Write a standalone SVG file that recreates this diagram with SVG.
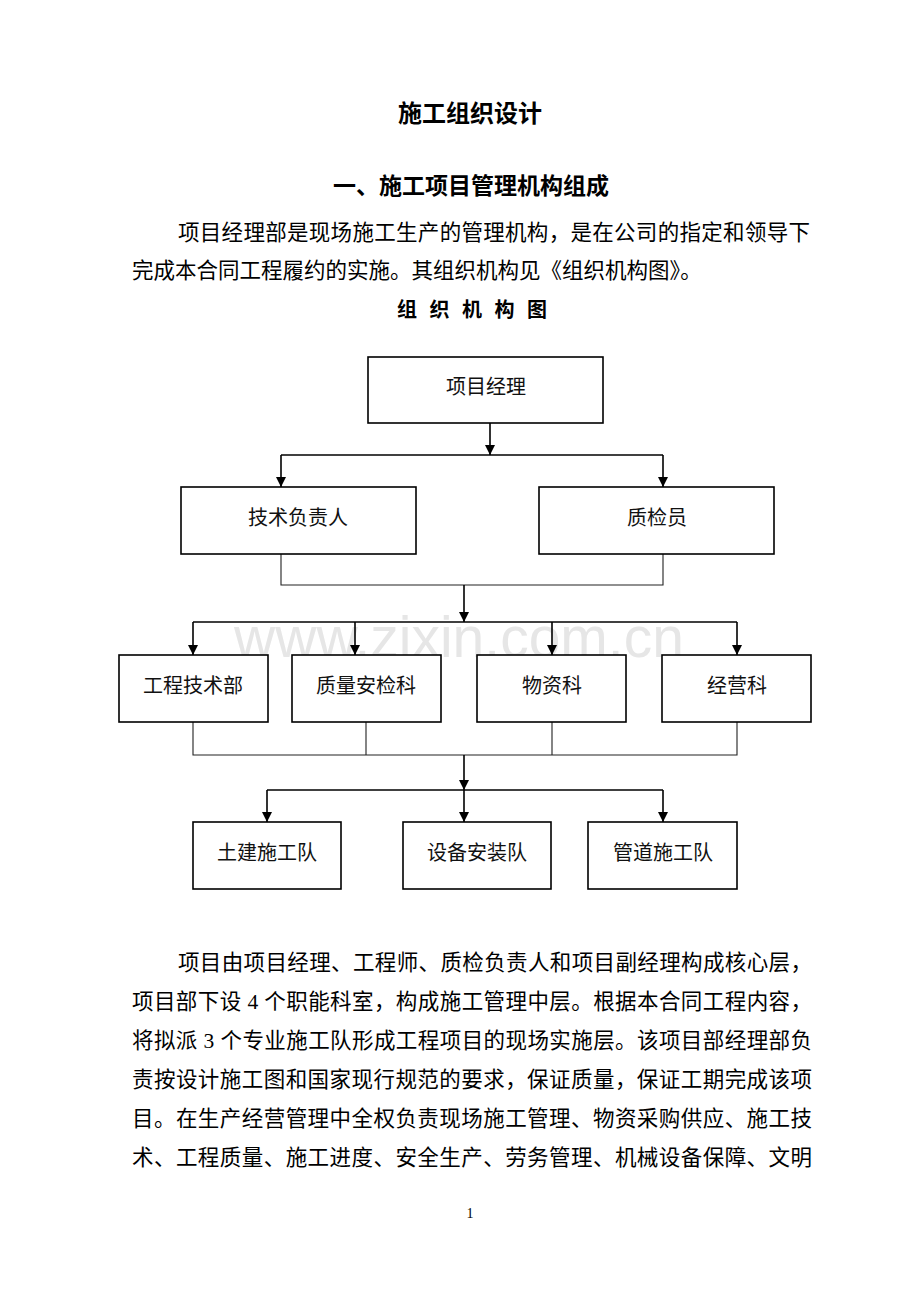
<svg xmlns="http://www.w3.org/2000/svg" width="920" height="1302" viewBox="0 0 920 1302">
<defs>
<marker id="arr" viewBox="0 0 10 10" refX="10" refY="5" markerWidth="10" markerHeight="10" markerUnits="userSpaceOnUse" orient="auto">
<path d="M0,0 L10,5 L0,10 z" fill="#000"/>
</marker>
<style>
.t{font-family:"Liberation Serif","Noto Sans CJK SC",serif;fill:#000}
.h{font-family:"Noto Sans CJK SC",sans-serif;font-weight:bold;fill:#000}
.n{font-family:"Noto Sans CJK SC",sans-serif;font-size:20px;fill:#111;text-anchor:middle}
.box{fill:#fff;stroke:#000;stroke-width:1.6}
.a{fill:none;stroke:#000;stroke-width:1.6}
.c{fill:none;stroke:#222;stroke-width:1.1}
</style>
</defs>
<rect width="920" height="1302" fill="#fff"/>
<text x="459" y="657" font-family="Liberation Sans,Arial,sans-serif" font-size="57" fill="#e6e6e6" text-anchor="middle">www.zixin.com.cn</text>

<text class="h" x="470" y="122" font-size="24" text-anchor="middle">施工组织设计</text>
<text class="h" x="471" y="194" font-size="23" text-anchor="middle">一、施工项目管理机构组成</text>
<text class="t" x="178" y="240" font-size="21.5" textLength="632" lengthAdjust="spacing">项目经理部是现场施工生产的管理机构，是在公司的指定和领导下</text>
<text class="t" x="132" y="278" font-size="21.5">完成本合同工程履约的实施。其组织机构见《组织机构图》。</text>
<text class="h" x="397" y="317" font-size="20" textLength="150" lengthAdjust="spacing">组 织 机 构 图</text>

<g id="connectors">
<path class="a" d="M490,423 V455" marker-end="url(#arr)"/>
<path class="a" d="M281,455 H663"/>
<path class="a" d="M281,455 V487" marker-end="url(#arr)"/>
<path class="a" d="M663,455 V487" marker-end="url(#arr)"/>
<path class="c" d="M281,554 V585 H663 V554"/>
<path class="a" d="M464,585 V622" marker-end="url(#arr)"/>
<path class="a" d="M193,622 H737"/>
<path class="a" d="M193,622 V655" marker-end="url(#arr)"/>
<path class="a" d="M355,622 V655" marker-end="url(#arr)"/>
<path class="a" d="M552,622 V655" marker-end="url(#arr)"/>
<path class="a" d="M737,622 V655" marker-end="url(#arr)"/>
<path class="c" d="M193,722 V755 H737 V722 M366,722 V755 M552,722 V755"/>
<path class="a" d="M464,755 V790" marker-end="url(#arr)"/>
<path class="a" d="M267,790 H663"/>
<path class="a" d="M267,790 V822" marker-end="url(#arr)"/>
<path class="a" d="M464,790 V822" marker-end="url(#arr)"/>
<path class="a" d="M663,790 V822" marker-end="url(#arr)"/>
</g>

<g id="n_pm"><rect class="box" x="368" y="357" width="235" height="66"/><text class="n" x="486" y="394">项目经理</text></g>
<g id="n_tech"><rect class="box" x="181" y="487" width="235" height="67"/><text class="n" x="298" y="525">技术负责人</text></g>
<g id="n_qc"><rect class="box" x="539" y="487" width="235" height="67"/><text class="n" x="657" y="525">质检员</text></g>
<g id="n_eng"><rect class="box" x="119" y="655" width="149" height="67"/><text class="n" x="193" y="693">工程技术部</text></g>
<g id="n_qs"><rect class="box" x="292" y="655" width="149" height="67"/><text class="n" x="366" y="693">质量安检科</text></g>
<g id="n_mat"><rect class="box" x="477" y="655" width="149" height="67"/><text class="n" x="552" y="693">物资科</text></g>
<g id="n_biz"><rect class="box" x="662" y="655" width="149" height="67"/><text class="n" x="737" y="693">经营科</text></g>
<g id="n_civil"><rect class="box" x="193" y="822" width="148" height="67"/><text class="n" x="267" y="860">土建施工队</text></g>
<g id="n_equip"><rect class="box" x="403" y="822" width="148" height="67"/><text class="n" x="477" y="860">设备安装队</text></g>
<g id="n_pipe"><rect class="box" x="588" y="822" width="149" height="67"/><text class="n" x="663" y="860">管道施工队</text></g>

<g font-size="21.5">
<text class="t" x="178" y="970" textLength="634" lengthAdjust="spacing">项目由项目经理、工程师、质检负责人和项目副经理构成核心层，</text>
<text class="t" x="132" y="1009" textLength="680" lengthAdjust="spacing">项目部下设 4 个职能科室，构成施工管理中层。根据本合同工程内容，</text>
<text class="t" x="132" y="1048" textLength="680" lengthAdjust="spacing">将拟派 3 个专业施工队形成工程项目的现场实施层。该项目部经理部负</text>
<text class="t" x="132" y="1087" textLength="680" lengthAdjust="spacing">责按设计施工图和国家现行规范的要求，保证质量，保证工期完成该项</text>
<text class="t" x="132" y="1126" textLength="680" lengthAdjust="spacing">目。在生产经营管理中全权负责现场施工管理、物资采购供应、施工技</text>
<text class="t" x="132" y="1165" textLength="680" lengthAdjust="spacing">术、工程质量、施工进度、安全生产、劳务管理、机械设备保障、文明</text>
</g>
<text class="t" x="470" y="1218" font-size="14" text-anchor="middle">1</text>
</svg>
